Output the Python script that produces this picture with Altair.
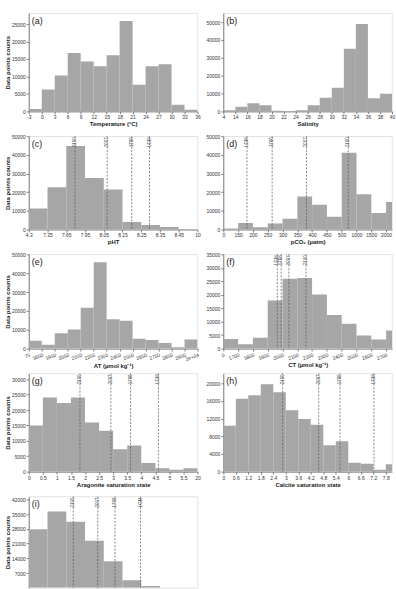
import altair as alt
import pandas as pd
import numpy as np

FONT = "Liberation Sans"
BAR = "#a6a6a6"

# ---------------- data ----------------
# (a) Temperature
temp_edges_lbl = ["-3", "0", "3", "6", "9", "12", "15", "18", "21", "24", "27", "30", "33", "36"]
temp_counts = [700, 6250, 10300, 16700, 14300, 12900, 16100, 25900, 7600, 12900, 13500, 1900, 500]

# (b) Salinity
sal_edges_lbl = ["4", "14", "16", "18", "20", "22", "24", "26", "28", "30", "32", "34", "36", "38", "40"]
sal_counts = [700, 2600, 4500, 3500, 300, 0, 700, 3500, 7600, 13200, 35000, 48900, 7400, 9900]

# (c) pH_T
ph_edges_lbl = ["4.3", "7.35", "7.65", "7.95", "8.05", "8.15", "8.25", "8.35", "8.45", "10"]
ph_edges_num = [4.3, 7.35, 7.65, 7.95, 8.05, 8.15, 8.25, 8.35, 8.45, 10]
ph_counts = [11300, 22700, 44800, 27600, 21500, 4000, 2400, 1400, 0]
ph_lines = [7.788, 8.068, 8.199, 8.294]

# (d) pCO2
pco2_edges_lbl = ["0", "150", "200", "250", "300", "350", "400", "450", "500", "1000", "1500", "2000", "2500"]
pco2_edges_num = [0, 150, 200, 250, 300, 350, 400, 450, 500, 1000, 1500, 2000, 2500]
pco2_counts = [500, 3500, 1200, 3200, 5800, 17700, 13200, 6800, 41200, 18900, 8900, 14700]
pco2_lines = [180, 265, 381, 720]

# (e) A_T
at_edges_lbl = ["75", "1850", "1950", "2050", "2150", "2250", "2350", "2450", "2550",
                "2650", "2750", "2850", "2950", "2e+04"]
at_counts = [4200, 2000, 8100, 10100, 21600, 45800, 15500, 14800, 5200, 4600, 3000, 700, 4800]

# (f) C_T
ct_edges_lbl = ["0", "1700", "1800", "1900", "2000", "2100", "2200", "2300", "2400",
                "2500", "2600", "2700", "2800"]
ct_edges_num = [1600, 1700, 1800, 1900, 2000, 2100, 2200, 2300, 2400, 2500, 2600, 2700, 2800]
ct_counts = [3600, 1600, 4000, 17900, 25900, 26200, 20100, 12500, 9200, 4900, 3400, 6700]
ct_lines = [1965, 1991, 2043, 2159]

# (g) Aragonite saturation state
ar_edges_lbl = ["0", "0.5", "1", "1.5", "2", "2.5", "3", "3.5", "4", "4.5", "5", "5.5", "20"]
ar_edges_num = [0, 0.5, 1, 1.5, 2, 2.5, 3, 3.5, 4, 4.5, 5, 5.5, 20]
ar_counts = [15000, 24100, 22300, 24100, 16000, 13300, 7300, 8500, 2800, 1100, 600, 1100]
ar_lines = [1.82, 2.92, 3.62, 4.61]

# (h) Calcite saturation state
ca_edges_lbl = ["0", "0.6", "1.2", "1.8", "2.4", "3", "3.6", "4.2", "4.8", "5.4", "6",
                "6.6", "7.2", "7.8", "8.4"]
ca_edges_num = [0, 0.6, 1.2, 1.8, 2.4, 3, 3.6, 4.2, 4.8, 5.4, 6, 6.6, 7.2, 7.8, 8.4]
ca_counts = [10400, 16500, 17300, 19800, 18000, 13900, 11900, 10600, 6000, 6900, 2000, 1800, 450, 1700]
ca_lines = [2.85, 4.58, 5.6, 7.23]

# (i) (x axis not visible)
i_edges_num = [0, 1, 2, 3, 4, 5, 6, 7, 8, 9]
i_edges_lbl = [str(v) for v in i_edges_num]
i_counts = [27800, 36300, 31400, 22400, 12600, 3600, 900, 0, 0]
i_lines = [2.37, 3.68, 4.6, 5.96]

line_names = ["2100", "2007", "1766", "LGM"]
line_names_d = ["LGM", "1766", "2007", "2100"]

W = 170


def to_index(values, edges_num):
    return list(np.interp(values, edges_num, np.arange(len(edges_num))))


def panel(letter, labels, counts, ymax, yticks, xtitle, height, ytitle=True,
          xmax=None, lines=None, names=None, label_angle=0, label_align="center",
          show_x=True, label_flush=False):
    n = len(counts)
    df = pd.DataFrame({"x0": list(range(n)), "x1": list(range(1, n + 1)), "count": counts})
    xmax = n if xmax is None else xmax
    arr = "[" + ",".join("'%s'" % l for l in labels) + "]"
    xscale = alt.Scale(domain=[0, xmax], nice=False, zero=False)
    if show_x:
        xaxis = alt.Axis(values=list(range(len(labels))), labelExpr=f"{arr}[datum.value]",
                         title=xtitle, labelAngle=label_angle, labelAlign=label_align,
                         grid=False, labelFlush=label_flush, labelOverlap=False)
    else:
        xaxis = None
    yaxis = alt.Axis(values=yticks, title="Data points counts" if ytitle else None,
                     format="d", grid=False, labelOverlap=False)
    yscale = alt.Scale(domain=[0, ymax], nice=False)
    bars = alt.Chart(df).mark_rect(fill=BAR, clip=True).encode(
        x=alt.X("x0:Q", scale=xscale, axis=xaxis),
        x2="x1",
        y=alt.Y("count:Q", scale=yscale, axis=yaxis),
        y2=alt.datum(0),
    )
    layers = [bars]
    if lines is not None:
        ldf = pd.DataFrame({"pos": lines, "name": names})
        rule = alt.Chart(ldf).mark_rule(strokeDash=[2, 1.5], color="#555555",
                                        strokeWidth=0.7).encode(
            x=alt.X("pos:Q", scale=xscale, axis=xaxis))
        txt = alt.Chart(ldf).mark_text(angle=270, align="right", baseline="middle",
                                       fontSize=4.5, color="#444444", font=FONT).encode(
            x=alt.X("pos:Q", scale=xscale, axis=xaxis), y=alt.value(1), text="name:N")
        layers += [rule, txt]
    lab = alt.Chart(pd.DataFrame({"t": [letter]})).mark_text(
        align="left", baseline="middle", fontSize=9, font=FONT, color="#222222").encode(
        x=alt.value(3), y=alt.value(8), text="t:N")
    layers.append(lab)
    return alt.layer(*layers).properties(width=W, height=height)


H1, H2, H3, H4, H5 = 99, 94, 95, 99, 92

pa = panel("(a)", temp_edges_lbl, temp_counts, 28125, list(range(0, 25001, 5000)),
           "Temperature (°C)", H1)
pb = panel("(b)", sal_edges_lbl, sal_counts, 55000, list(range(0, 50001, 10000)),
           "Salinity", H1, ytitle=False, label_flush=True)
pc = panel("(c)", ph_edges_lbl, ph_counts, 50000, list(range(0, 50001, 10000)),
           "pHT", H2, lines=to_index(ph_lines, ph_edges_num), names=line_names)
pd_ = panel("(d)", pco2_edges_lbl, pco2_counts, 50000, list(range(0, 50001, 10000)),
            "pCO₂ (µatm)", H2, ytitle=False, xmax=11.4,
            lines=to_index(pco2_lines, pco2_edges_num), names=line_names_d)
pe = panel("(e)", at_edges_lbl, at_counts, 50000, list(range(0, 50001, 10000)),
           "AT (µmol kg⁻¹)", H3, label_angle=340, label_align="right")
pf = panel("(f)", ct_edges_lbl, ct_counts, 35000, list(range(0, 35001, 5000)),
           "CT (µmol kg⁻¹)", H3, ytitle=False, xmax=11.4, label_angle=340,
           label_align="right", lines=to_index(ct_lines, ct_edges_num), names=line_names_d)
pg = panel("(g)", ar_edges_lbl, ar_counts, 31935, list(range(0, 30001, 5000)),
           "Aragonite saturation state", H4, lines=to_index(ar_lines, ar_edges_num),
           names=line_names)
ph = panel("(h)", ca_edges_lbl, ca_counts, 22250, list(range(0, 20001, 4000)),
           "Calcite saturation state", H4, ytitle=False, xmax=13.5,
           lines=to_index(ca_lines, ca_edges_num), names=line_names)
pi = panel("(i)", i_edges_lbl, i_counts, 43400, list(range(7000, 42001, 7000)),
           None, H5, lines=to_index(i_lines, i_edges_num), names=line_names, show_x=False)

chart = alt.concat(pa, pb, pc, pd_, pe, pf, pg, ph, pi, columns=2,
                   spacing={"row": 25, "column": 26}, bounds="flush", align="each").properties(
    padding={"left": 4, "top": 10, "right": 0, "bottom": 0},
    background="white",
).configure_view(
    stroke="#dcdcdc", strokeWidth=0.8
).configure_axis(
    labelFont=FONT, titleFont=FONT, labelFontSize=5, labelColor="#333333",
    titleFontSize=6, titleFontWeight="bold", titleColor="#222222",
    tickColor="#666666", domainColor="#666666", tickSize=2.5, labelPadding=1,
    titlePadding=1, domainWidth=0.8, tickWidth=0.8
)

chart.save("out.html", embed_options={"renderer": "svg", "actions": False})
